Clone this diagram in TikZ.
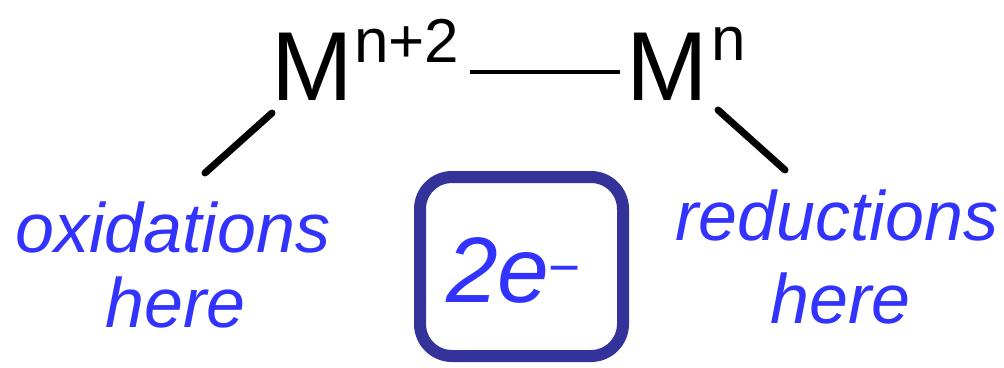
\documentclass[tikz,border=0pt]{standalone}
\usepackage{fontspec}
\setmainfont{Liberation Sans}
\definecolor{txtblue}{HTML}{3333FF}
\definecolor{boxblue}{HTML}{333399}
\tikzset{
  lbl/.style={text=txtblue, font=\fontsize{70}{84}\selectfont\itshape, anchor=base west, inner sep=0pt},
  metal/.style={font=\fontsize{98}{110}\selectfont, anchor=base west, inner sep=0pt},
  supr/.style={font=\fontsize{62}{72}\selectfont, anchor=base west, inner sep=0pt},
  stick/.style={line width=7pt, line cap=round},
  bond/.style={line width=4pt},
  ebox/.style={draw=boxblue, line width=12pt, rounded corners=32pt}
}
\begin{document}
\begin{tikzpicture}[x=1pt,y=-1pt]
\useasboundingbox (0,0) rectangle (1004,367);
% metals
\node[metal] (M1) at (271,100) {M};
\node[supr] (S1) at (354,62) {n+2};
\node[metal] (M2) at (626,100) {M};
\node[supr] (S2) at (711,60) {n};
% bond
\coordinate (b1) at (470,72);
\coordinate (b2) at (620,72);
\draw[bond] (b1) -- (b2);
% sticks
\coordinate (l1) at (272,113);
\coordinate (l2) at (205,173);
\coordinate (r1) at (718,110);
\coordinate (r2) at (785,170);
\draw[stick] (l1) -- (l2);
\draw[stick] (r1) -- (r2);
% labels
\node[lbl] (ox) at (15,252) {oxidations};
\node[lbl] (oxh) at (105,327) {here};
\node[lbl] (red) at (675,240) {reductions};
\node[lbl] (redh) at (770,323) {here};
% box
\draw[ebox] (420,177) rectangle (623,356);
\node[text=txtblue, font=\fontsize{93}{110}\selectfont\itshape, anchor=base west, inner sep=0pt] (e) at (446,302) {2e};
\node[text=txtblue, font=\fontsize{55}{66}\selectfont, anchor=north west, inner sep=0pt] (minus) at (548,266) {−};
\end{tikzpicture}
\end{document}
